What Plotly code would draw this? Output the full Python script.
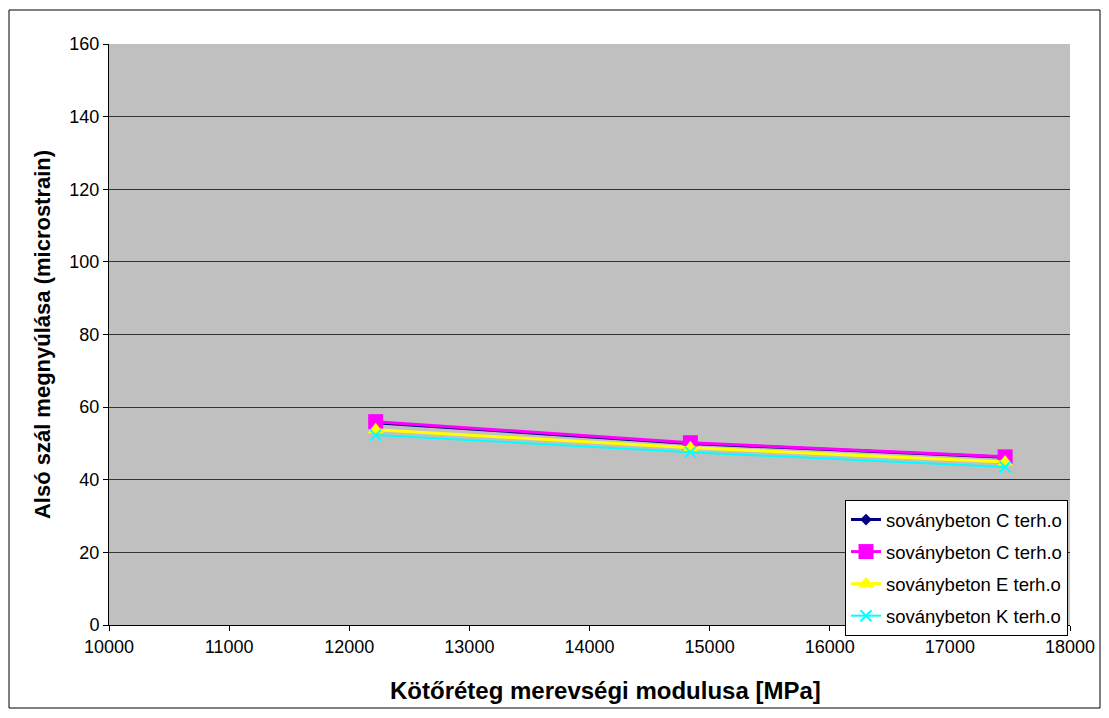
import plotly.graph_objects as go

x_vals = [12220, 14840, 17460]
names = ["soványbeton C terh.o", "soványbeton C terh.o", "soványbeton E terh.o", "soványbeton K terh.o"]
s_black = [55.7, 50.0, 46.2]
s_magenta = [56.0, 50.2, 46.3]
s_yellow = [53.8, 48.8, 44.9]
s_cyan = [52.3, 47.6, 43.5]
x_ticks = [10000, 11000, 12000, 13000, 14000, 15000, 16000, 17000, 18000]
x_tick_text = ["10000", "11000", "12000", "13000", "14000", "15000", "16000", "17000", "18000"]
y_ticks = [0, 20, 40, 60, 80, 100, 120, 140, 160]
x_title = "Kötőréteg merevségi modulusa [MPa]"
y_title = "Alsó szál megnyúlása (microstrain)"

W, H = 1109, 718
L, R, T, B = 109, 1070, 44, 625

fig = go.Figure()
fig.add_trace(go.Scatter(x=x_vals, y=s_black, name=names[0], legendgroup="a",
    mode="lines+markers", line=dict(color="#000080", width=3),
    marker=dict(symbol="diamond", size=9, color="#000080")))
fig.add_trace(go.Scatter(x=x_vals, y=s_magenta, name=names[1], legendgroup="b",
    mode="lines+markers", line=dict(color="#FF00FF", width=3),
    marker=dict(symbol="square", size=15, color="#FF00FF")))
fig.add_trace(go.Scatter(x=x_vals, y=s_yellow, name=names[2], legendgroup="c",
    mode="lines+markers", line=dict(color="#FFFF00", width=3),
    marker=dict(symbol="triangle-up", size=14, color="#FFFF00")))
fig.add_trace(go.Scatter(x=x_vals, y=s_cyan, name=names[3], legendgroup="d",
    mode="lines+markers", line=dict(color="#00FFFF", width=2),
    marker=dict(symbol="x-thin", size=11, line=dict(color="#00FFFF", width=2), color="#00FFFF")))

pw = R - L
ph = B - T
def px(xp):
    return (xp - L) / pw
def py(yp):
    return (B - yp) / ph

fig.add_shape(type="rect", xref="paper", yref="paper",
    x0=px(9), x1=px(1100), y0=py(708), y1=py(10),
    line=dict(color="black", width=1), fillcolor="rgba(0,0,0,0)", layer="below")

fig.add_annotation(text="<b>" + x_title + "</b>", xref="paper", yref="paper",
    x=px(605), y=py(690), xanchor="center", yanchor="middle", showarrow=False,
    font=dict(size=24, color="black", family="Liberation Sans, Arial, sans-serif"))

fig.update_layout(
    width=W, height=H,
    margin=dict(l=L, r=W - R, t=T, b=H - B),
    paper_bgcolor="white", plot_bgcolor="#C0C0C0",
    font=dict(family="Liberation Sans, Arial, sans-serif", color="black", size=18),
    showlegend=True,
    legend=dict(x=px(1068), xanchor="right", y=py(636), yanchor="bottom",
        bgcolor="white", bordercolor="black", borderwidth=1,
        font=dict(size=18.5), traceorder="grouped", tracegroupgap=5),
    xaxis=dict(range=[10000, 18000], tickvals=x_ticks, ticktext=x_tick_text,
        ticks="outside", ticklen=5, tickfont=dict(size=18),
        tickcolor="black", showline=True, linecolor="black", linewidth=1,
        showgrid=False, zeroline=False, mirror=False),
    yaxis=dict(range=[0, 160], tickvals=y_ticks, ticks="outside", ticklen=5,
        tickfont=dict(size=18),
        tickcolor="black", showline=True, linecolor="black", linewidth=1,
        showgrid=True, gridcolor="#333333", gridwidth=1, zeroline=False,
        title=dict(text="<b>" + y_title + "</b>", font=dict(size=22), standoff=12)),
)

fig.write_html("out.html")
